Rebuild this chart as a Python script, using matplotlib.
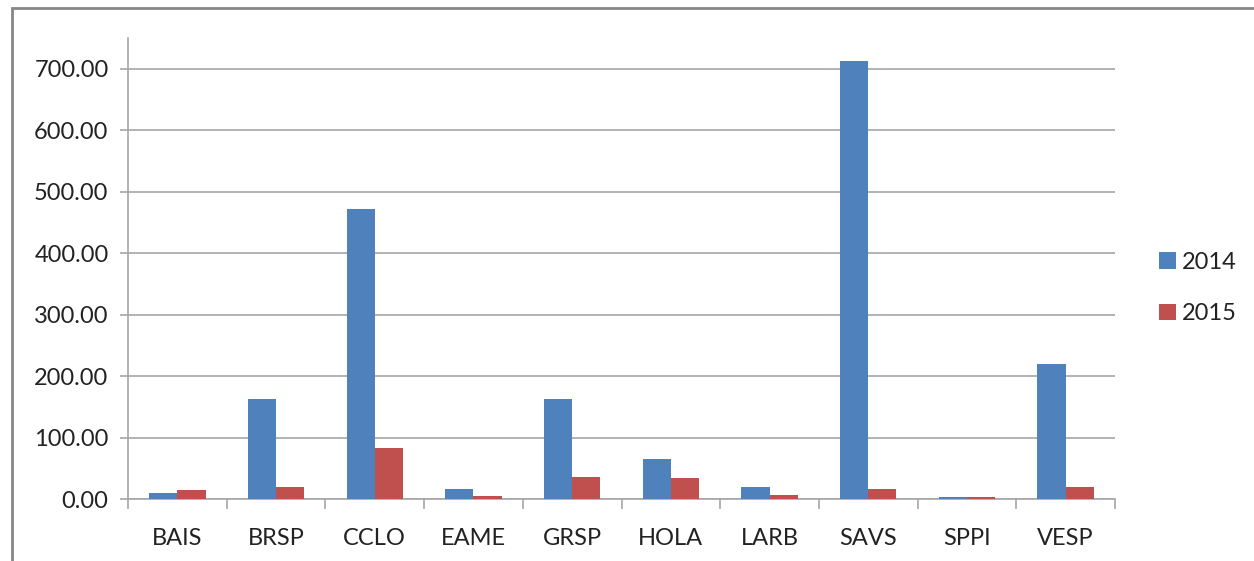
import matplotlib
matplotlib.use("Agg")
import matplotlib.pyplot as plt
import numpy as np
from matplotlib.patches import Rectangle
from matplotlib.ticker import FixedLocator, FuncFormatter

categories = ["BAIS", "BRSP", "CCLO", "EAME", "GRSP", "HOLA", "LARB", "SAVS", "SPPI", "VESP"]
series_names = ["2014", "2015"]
values_2014 = [9, 163, 471, 17, 163, 65, 19, 713, 2.7, 220]
values_2015 = [15, 19, 83.5, 4.5, 36, 34, 6.5, 17, 2.7, 19]
y_ticks = [0, 100, 200, 300, 400, 500, 600, 700]

plt.rcParams['font.family'] = ['Lato', 'DejaVu Sans']

W, H = 1254, 561
fig = plt.figure(figsize=(W / 100, H / 100), dpi=100)
ax = fig.add_axes([128 / W, 1 - 499 / H, (1115 - 128) / W, (499 - 38) / H])

x = np.arange(len(categories))
bw = 1 / 3.5
c14 = "#4F81BD"
c15 = "#C0504D"
ax.bar(x - bw / 2, values_2014, width=bw, color=c14, label=series_names[0], zorder=3)
ax.bar(x + bw / 2, values_2015, width=bw, color=c15, label=series_names[1], zorder=3)

ax.set_xlim(-0.5, len(categories) - 0.5)
ax.set_ylim(0, 750)
ax.set_yticks(y_ticks)
ax.yaxis.set_major_formatter(FuncFormatter(lambda v, p: f"{v:.2f}"))
ax.set_xticks(x)
ax.set_xticklabels(categories)
ax.xaxis.set_minor_locator(FixedLocator(np.arange(-0.5, len(categories), 1.0)))

gc = "#A6A6A6"
ax.grid(axis="y", color=gc, linewidth=1.2, zorder=0)
for s in ["top", "right"]:
    ax.spines[s].set_visible(False)
for s in ["left", "bottom"]:
    ax.spines[s].set_color(gc)
    ax.spines[s].set_linewidth(1.2)
ax.tick_params(axis="y", which="major", length=6, color=gc, width=1.2, labelsize=17, pad=8, labelcolor="#222222")
ax.tick_params(axis="x", which="major", length=0, labelsize=17, pad=21, labelcolor="#222222")
ax.tick_params(axis="x", which="minor", length=7, color=gc, width=1.2)

handles, labels = ax.get_legend_handles_labels()
leg = fig.legend(handles, labels, loc="center left", bbox_to_anchor=(1138 / W, 1 - 288 / H),
                 frameon=False, fontsize=17, handlelength=0.7, handleheight=0.7,
                 handletextpad=0.25, labelspacing=1.3)
for t in leg.get_texts():
    t.set_color("#222222")

fig.patches.append(Rectangle((12 / W, -0.05), 1.1, 1 - 8 / H + 0.05, transform=fig.transFigure,
                             fill=False, edgecolor="#878787", linewidth=2))

fig.savefig("out.png", dpi=100)
